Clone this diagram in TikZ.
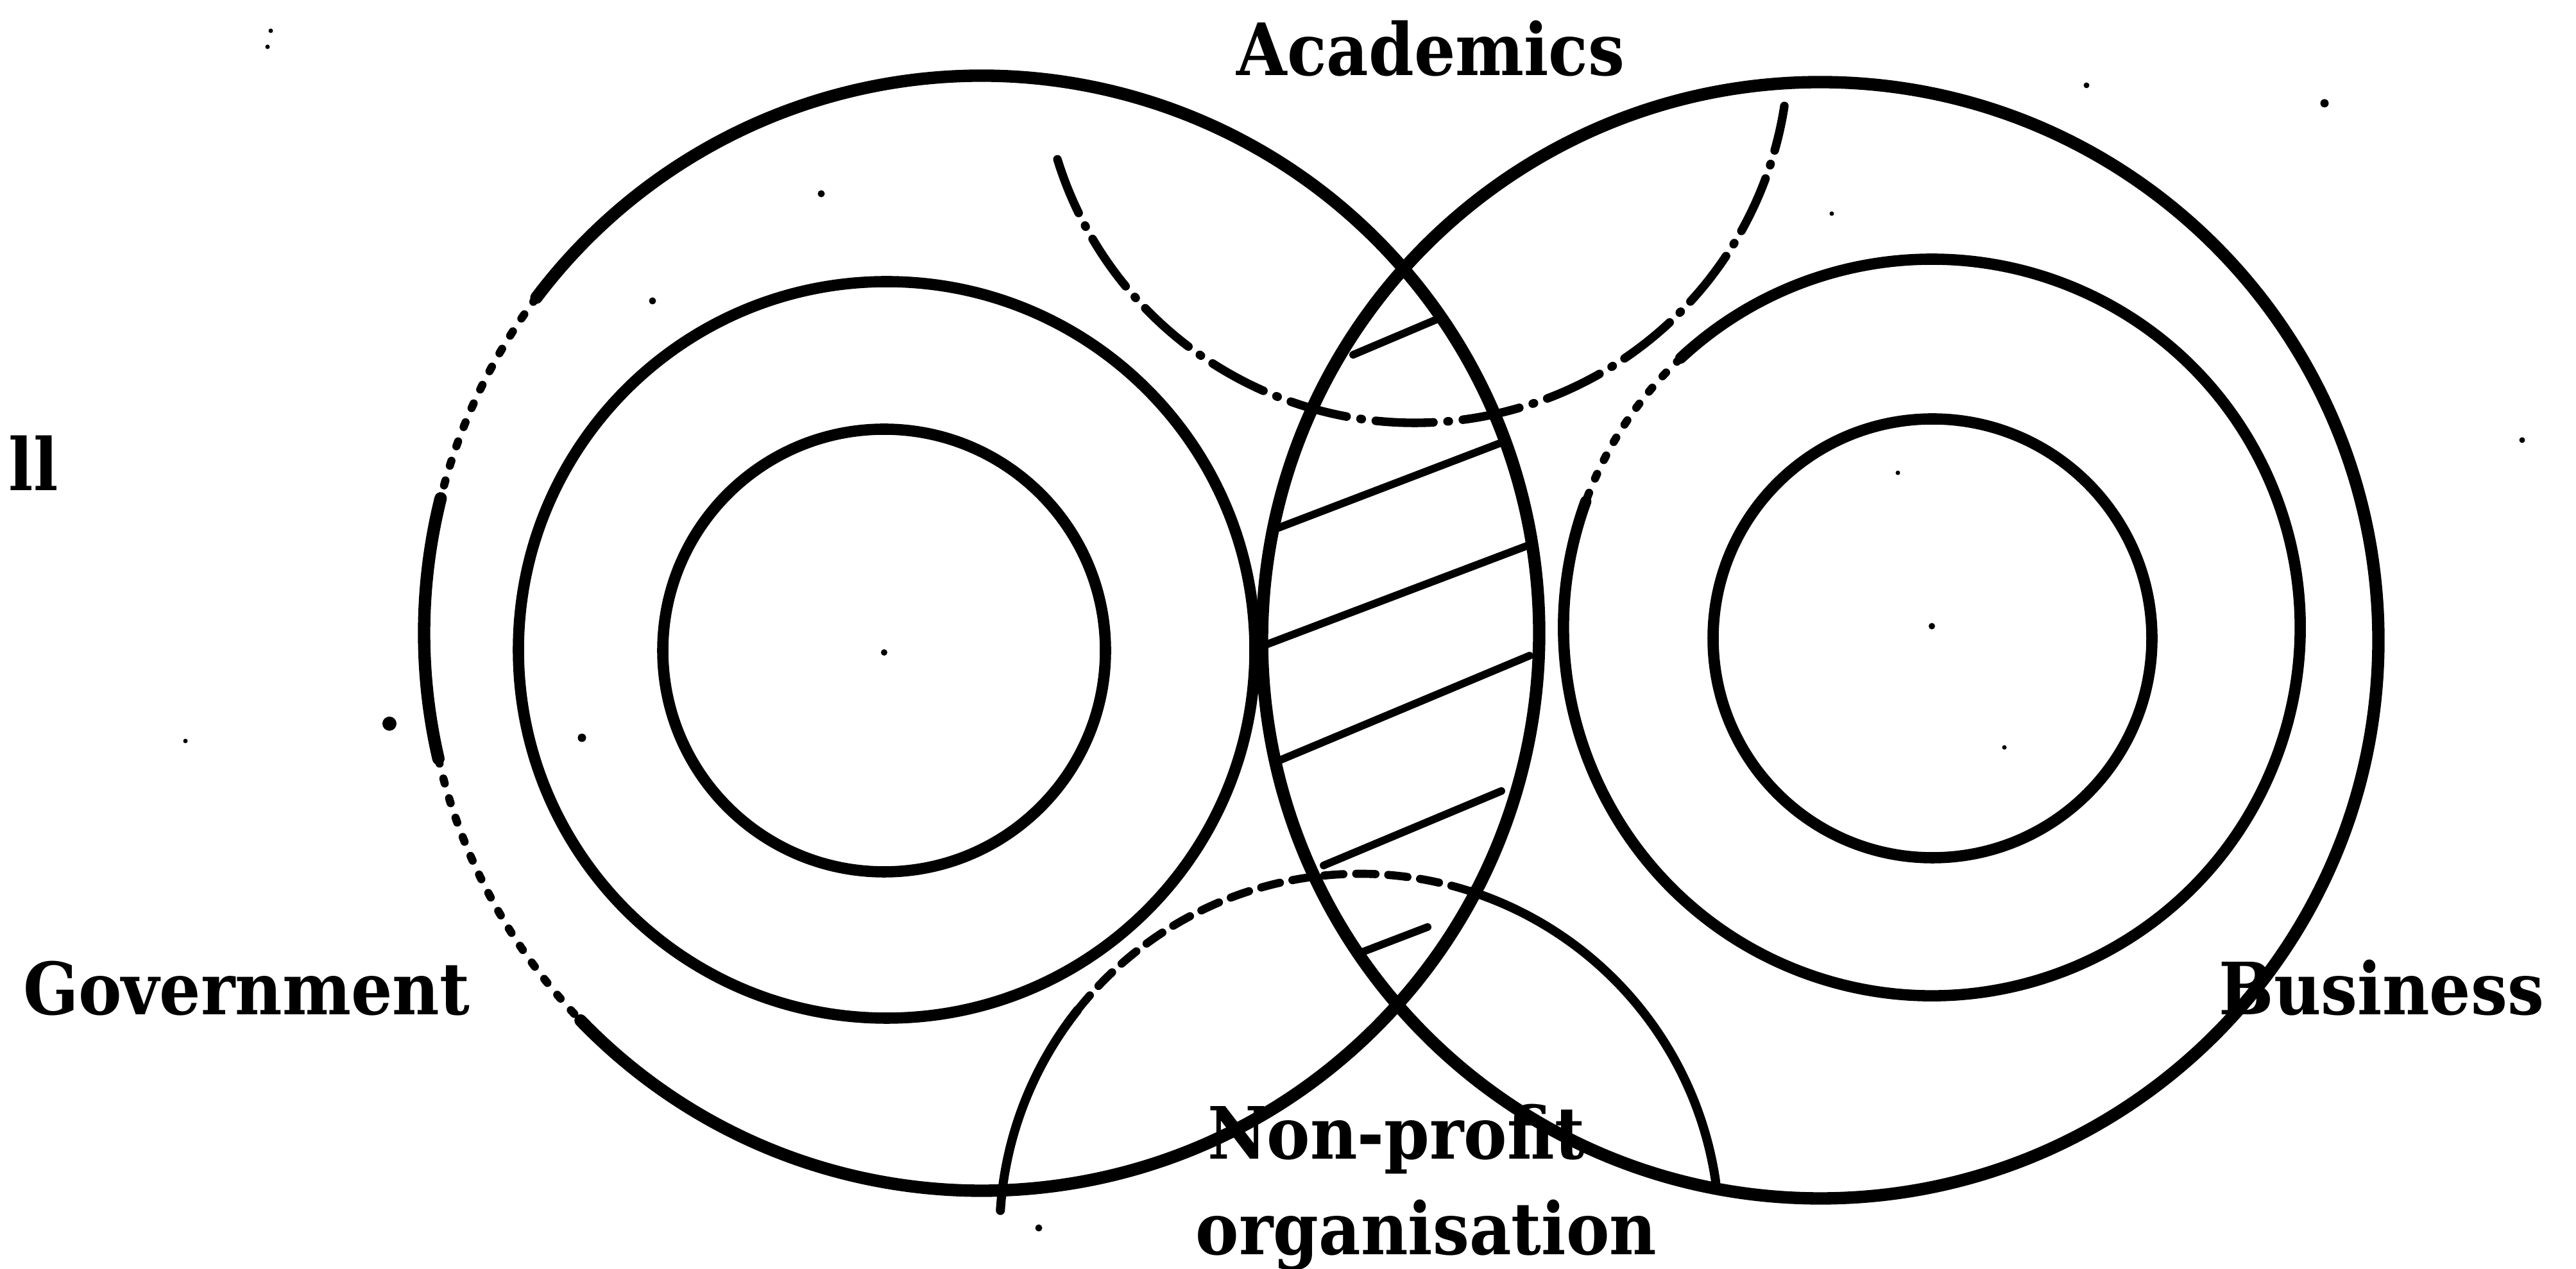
\documentclass[tikz,border=0pt]{standalone}
\usepackage{graphicx}
\usepackage{fontspec}
\setmainfont{DejaVu Serif}
\newcommand{\lab}[1]{\scalebox{0.9}[1]{\bfseries #1}}
\begin{document}
\begin{tikzpicture}[line cap=round,
  outerring/.style={line width=5.5pt},
  ring/.style={line width=5pt},
  brokenring/.style={line width=3.6pt, dash pattern=on 0.08cm off 0.24cm},
  arcline/.style={line width=4pt},
  acadline/.style={line width=3.8pt, dash pattern=on 0.9cm off 0.22cm on 0.02cm off 0.22cm},
  npdash/.style={line width=3.6pt, dash pattern=on 0.3cm off 0.2cm},
  hatchline/.style={line width=3.4pt},
  lbl/.style={inner sep=0pt, anchor=base, font=\fontsize{32}{38}\selectfont},
  speck/.style={fill, circle, inner sep=0pt}]
\useasboundingbox (0,0) rectangle (40.15,19.78);

% left set of circles (Government)
\draw[outerring] (15.30,9.91) ++(224:8.69) arc[start angle=224, end angle=503, radius=8.69];
\draw[outerring] (15.30,9.91) ++(166:8.69) arc[start angle=166, end angle=193, radius=8.69];
\draw[brokenring] (15.30,9.91) ++(143:8.69) arc[start angle=143, end angle=166, radius=8.69];
\draw[brokenring] (15.30,9.91) ++(193:8.69) arc[start angle=193, end angle=224, radius=8.69];
\draw[ring] (13.82,9.65) circle[radius=5.74];
\draw[ring] (13.78,9.64) circle[radius=3.45];

% right set of circles (Business)
\draw[outerring] (28.37,9.80) circle[radius=8.70];
\draw[ring] (30.11,10.00) ++(160:5.74) arc[start angle=160, end angle=493, radius=5.74];
\draw[brokenring] (30.11,10.00) ++(133:5.74) arc[start angle=133, end angle=160, radius=5.74];
\draw[ring] (30.12,9.83) circle[radius=3.42];

% Academics arc
\draw[acadline] (22.05,19.02) ++(197.2:5.83) arc[start angle=197.2, end angle=351.2, radius=5.83];

% Non-profit arc
\draw[arcline] (21.19,0.55) ++(176.3:5.61) arc[start angle=176.3, end angle=141.6, radius=5.61];
\draw[npdash] (21.19,0.55) ++(141.6:5.61) arc[start angle=141.6, end angle=72, radius=5.61];
\draw[arcline] (21.19,0.55) ++(72:5.61) arc[start angle=72, end angle=8.2, radius=5.61];

% hatching of the overlap
\draw[hatchline] (21.09,14.25) -- (22.46,14.83);
\draw[hatchline] (19.92,11.55) -- (23.40,12.88);
\draw[hatchline] (19.73,9.73) -- (23.90,11.31);
\draw[hatchline] (19.90,7.91) -- (23.84,9.56);
\draw[hatchline] (20.63,6.29) -- (23.40,7.45);
\draw[hatchline] (21.18,4.92) -- (22.25,5.33);

% labels
\node[lbl] (acad) at (22.30,18.60) {\lab{Academics}};
\node[lbl] (gov) at (3.84,3.96) {\lab{Government}};
\node[lbl] (bus) at (37.12,3.96) {\lab{Business}};
\node[lbl] (np1) at (21.76,1.71) {\lab{Non-profit}};
\node[lbl] (np2) at (22.23,0.22) {\lab{organisation}};
\node[lbl, anchor=base west] (ll) at (0.13,12.13) {\lab{ll}};

% centre dots and specks
\node[speck, minimum size=0.10cm] (cl) at (13.78,9.61) {};
\node[speck, minimum size=0.10cm] (cr) at (30.11,10.02) {};
\node[speck, minimum size=0.22cm] (d1) at (6.07,8.50) {};
\node[speck, minimum size=0.13cm] (d2) at (9.07,8.28) {};
\node[speck, minimum size=0.07cm] (d3) at (2.89,8.23) {};
\node[speck, minimum size=0.11cm] (d4) at (12.80,16.76) {};
\node[speck, minimum size=0.11cm] (d5) at (10.17,15.09) {};
\node[speck, minimum size=0.13cm] (d6) at (36.23,18.17) {};
\node[speck, minimum size=0.09cm] (d7) at (39.31,12.92) {};
\node[speck, minimum size=0.09cm] (d8) at (32.52,18.45) {};
\node[speck, minimum size=0.07cm] (d9) at (28.55,16.45) {};
\node[speck, minimum size=0.07cm] (d10) at (29.58,12.41) {};
\node[speck, minimum size=0.07cm] (d11) at (31.24,8.13) {};
\node[speck, minimum size=0.11cm] (d12) at (16.19,0.64) {};
\node[speck, minimum size=0.07cm] (d13) at (4.22,19.30) {};
\node[speck, minimum size=0.07cm] (d14) at (4.17,19.05) {};
\end{tikzpicture}
\end{document}
